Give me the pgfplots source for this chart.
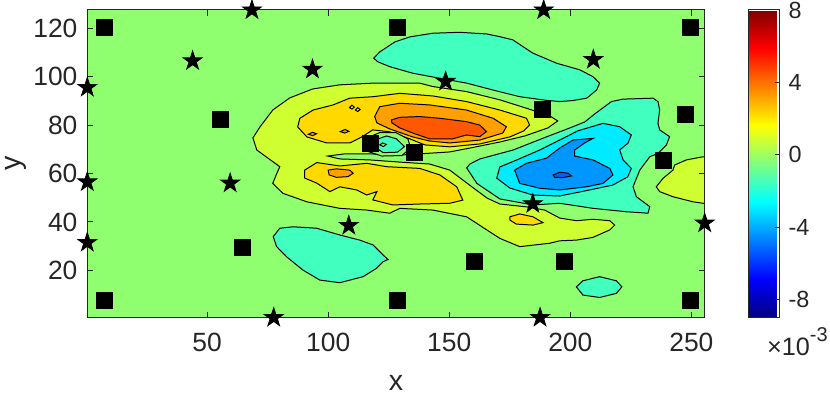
\documentclass[border=0pt]{standalone}
\usepackage{fontspec}
\setmainfont{Liberation Sans}
\usepackage{pgfplots}
\pgfplotsset{compat=1.18}
\usetikzlibrary{calc,plotmarks}

\definecolor{bgg}{RGB}{143,255,112}
\definecolor{yg}{RGB}{207,255,48}
\definecolor{gold}{RGB}{255,217,0}
\definecolor{orng}{RGB}{255,160,0}
\definecolor{redo}{RGB}{255,88,0}
\definecolor{aqua}{RGB}{64,255,191}
\definecolor{cyn}{RGB}{0,235,255}
\definecolor{blu}{RGB}{0,150,255}
\definecolor{dblu}{RGB}{0,96,255}
\definecolor{axgray}{RGB}{38,38,38}

% filled five-pointed star (MATLAB pentagram)
\pgfdeclareplotmark{fstar}{%
  \pgfpathmoveto{\pgfpointpolar{90}{\pgfplotmarksize}}%
  \pgfpathlineto{\pgfpointpolar{126}{0.382\pgfplotmarksize}}%
  \pgfpathlineto{\pgfpointpolar{162}{\pgfplotmarksize}}%
  \pgfpathlineto{\pgfpointpolar{198}{0.382\pgfplotmarksize}}%
  \pgfpathlineto{\pgfpointpolar{234}{\pgfplotmarksize}}%
  \pgfpathlineto{\pgfpointpolar{270}{0.382\pgfplotmarksize}}%
  \pgfpathlineto{\pgfpointpolar{306}{\pgfplotmarksize}}%
  \pgfpathlineto{\pgfpointpolar{342}{0.382\pgfplotmarksize}}%
  \pgfpathlineto{\pgfpointpolar{18}{\pgfplotmarksize}}%
  \pgfpathlineto{\pgfpointpolar{54}{0.382\pgfplotmarksize}}%
  \pgfpathclose
  \pgfusepathqfillstroke
}

\begin{document}
\begin{tikzpicture}
\path[use as bounding box] (-43.65pt,-38.7pt) rectangle (371.35pt,158.8pt);
\begin{axis}[
    name=ax, at={(0,0)}, anchor=south west,
    scale only axis, width=308.7pt, height=153.8pt,
    xmin=0.5, xmax=255.5, ymin=0.5, ymax=127.5,
    xtick={50,100,150,200,250}, xticklabels={50,100,150,200,250},
    ytick={20,40,60,80,100,120}, yticklabels={20,40,60,80,100,120},
    tick align=inside, major tick length=3pt,
    axis line style={axgray, line width=0.5pt},
    every tick/.style={axgray, line width=0.5pt},
    tick label style={font=\fontsize{13.2}{15}\selectfont, text=axgray},
    xticklabel style={yshift=-4.3pt},
    yticklabel style={xshift=-1.4pt},
    xlabel={x}, ylabel={y},
    label style={font=\fontsize{14.3}{17}\selectfont, text=axgray, inner sep=0pt},
    xlabel style={at={(axis description cs:0.5,-0.236)}, anchor=base},
    ylabel style={at={(axis description cs:-0.108,0.5)}, anchor=base, rotate=0},
    axis background/.style={fill=bgg},
    axis on top,
    colormap/jet,
    point meta min=-9, point meta max=8,
    colorbar,
    colorbar style={
        at={(parent axis.north east)}, anchor=north west, xshift=13.3pt,
        scale only axis, width=15.7pt, height=153.8pt,
        ytick={-8,-4,0,4,8}, yticklabels={-8,-4,0,4,8},
        yticklabel style={font=\fontsize{11.7}{14}\selectfont, text=axgray, xshift=0.9pt},
        tick align=inside, ytick pos=right, major tick length=2.5pt,
        axis line style={axgray, line width=0.5pt},
        every tick/.style={axgray, line width=0.5pt},
    },
]
% upper aqua blob
\addplot[fill=aqua, draw=black, line width=0.5pt] coordinates {
(118.8,107.6) (121.3,110.2) (127.5,114.3) (133.7,116.4) (143.2,117.9) (154.3,118.3)
(165.5,117.6) (170.8,116.5) (176.2,115.2) (184.5,109.7) (194.4,105.5) (203.9,102.8)
(209.3,100.0) (212.1,97.3) (210.9,94.5) (206.8,91.1) (201.0,90.1) (195.6,89.7)
(190.1,90.2) (179.1,91.7) (167.9,94.5) (157.2,97.3) (146.1,99.3) (134.9,101.4)
(125.4,104.1) (120.5,106.1)} --cycle;
% lower left aqua blob
\addplot[fill=aqua, draw=black, line width=0.5pt] coordinates {
(77.3,33.9) (80.0,37.4) (85.5,38.0) (95.2,37.4) (104.8,34.6) (113.0,32.5) (118.5,30.5)
(122.7,26.3) (124.7,24.5) (122.7,23.6) (119.9,20.8) (114.4,17.4) (104.8,14.9)
(96.5,16.0) (89.6,20.1) (82.8,25.6) (78.7,29.8)} --cycle;
% lower right aqua blob
\addplot[fill=aqua, draw=black, line width=0.5pt] coordinates {
(202.5,13.2) (205.2,15.7) (212.1,17.4) (219.0,15.7) (221.3,13.2) (219.0,10.5)
(212.1,8.8) (205.2,9.8)} --cycle;
% central positive region (C shaped)
\addplot[fill=yg, draw=black, line width=0.5pt] coordinates {
(68.9,74.7) (71.8,79.2) (77.1,86.2) (84.1,91.2) (93.6,94.9) (104.8,96.6) (118.4,97.3)
(137.8,97.3) (143.2,95.9) (157.2,93.8) (170.9,90.4) (182.0,86.9) (191.5,83.8)
(194.8,81.7) (190.7,78.8) (181.2,75.5) (170.9,73.0) (158.5,70.5) (150.2,68.9)
(137.8,68.1) (129.6,67.6) (117.2,68.1) (106.8,68.1) (99.8,67.2) (104.8,66.0)
(117.2,65.6) (129.6,64.7) (141.9,63.9) (150.2,61.4) (157.2,56.1) (165.5,49.9)
(170.9,47.4) (182.0,46.2) (189.4,44.9) (195.6,41.6) (202.6,40.5) (209.3,41.1)
(216.3,40.5) (218.3,38.7) (216.3,36.7) (209.3,33.6) (202.6,32.5) (195.6,32.2)
(191.5,31.2) (179.1,29.8) (170.9,33.2) (165.5,36.7) (157.2,42.1) (143.2,44.9)
(129.6,45.6) (125.4,43.6) (115.9,44.9) (104.8,45.6) (91.2,48.3) (81.3,51.8)
(77.1,55.9) (78.8,60.1) (80.0,62.8) (77.1,64.9) (70.5,69.7)} --cycle;
% upper gold lobe
\addplot[fill=gold, draw=black, line width=0.5pt] coordinates {
(87.4,79.2) (88.3,82.8) (93.8,86.2) (102.0,88.3) (108.9,91.1) (118.5,91.7) (129.6,93.1)
(143.3,92.0) (157.1,89.7) (170.9,86.2) (181.9,82.8) (183.2,80.0) (180.8,77.6)
(175.0,75.1) (162.6,72.2) (150.2,71.0) (139.9,71.8) (133.7,74.3) (125.4,77.2)
(118.4,78.0) (113.9,75.1) (108.9,72.6) (99.4,72.6) (91.2,75.1)} --cycle;
% small specks inside the upper gold lobe
\addplot[fill=orng, draw=black, line width=0.5pt] coordinates {
(91.8,76.2) (93.5,77.0) (95.2,76.4) (93.6,75.6)} --cycle;
\addplot[fill=orng, draw=black, line width=0.5pt] coordinates {
(105.0,77.3) (107.0,78.2) (108.6,77.4) (106.8,76.7)} --cycle;
\addplot[fill=yg, draw=black, line width=0.5pt] coordinates {
(108.8,87.2) (109.8,88.2) (110.8,87.4) (109.8,86.6)} --cycle;
\addplot[fill=yg, draw=black, line width=0.5pt] coordinates {
(111.2,86.2) (112.2,87.2) (113.2,86.4) (112.2,85.6)} --cycle;
% orange
\addplot[fill=orng, draw=black, line width=0.5pt] coordinates {
(119.2,83.5) (121.3,87.6) (129.6,89.0) (141.9,88.3) (157.1,86.2) (168.1,82.8)
(173.6,79.3) (172.1,76.7) (162.6,73.8) (150.2,72.6) (141.9,73.4) (134.9,75.1)
(125.4,78.4) (120.1,80.9)} --cycle;
% red
\addplot[fill=redo, draw=black, line width=0.5pt] coordinates {
(126.1,82.1) (129.6,83.2) (137.8,83.5) (146.1,82.8) (157.1,81.4) (162.6,80.0)
(165.4,77.3) (162.6,75.2) (157.1,75.9) (151.4,74.3) (141.9,74.3) (134.9,76.7)
(129.6,78.8) (126.3,80.9)} --cycle;
% small negative pocket near (120,72)
\addplot[fill=bgg, draw=black, line width=0.5pt] coordinates {
(115.1,74.3) (121.3,76.9) (127.9,76.9) (132.9,74.3) (134.1,70.5) (130.4,67.4)
(122.1,67.2) (115.9,69.3)} --cycle;
\addplot[fill=aqua, draw=black, line width=0.5pt] coordinates {
(119.2,73.8) (124.1,75.5) (128.2,74.3) (131.5,71.1) (128.6,68.8) (122.7,68.6)
(119.5,70.8)} --cycle;
\addplot[fill=bgg, draw=black, line width=0.5pt] coordinates {
(121.3,71.8) (122.5,72.6) (124.0,72.0) (122.8,71.1)} --cycle;
% lower gold lobe
\addplot[fill=gold, draw=black, line width=0.5pt] coordinates {
(90.3,61.4) (95.3,64.5) (104.8,63.1) (115.9,64.2) (124.2,62.8) (137.8,62.1)
(146.1,59.4) (153.1,54.5) (155.6,49.0) (150.2,47.7) (137.8,47.4) (126.7,47.0)
(118.4,49.1) (120.1,52.5) (115.9,51.1) (111.8,53.2) (104.8,54.5) (100.7,52.5)
(95.3,56.0) (90.3,58.1)} --cycle;
\addplot[fill=orng, draw=black, line width=0.5pt] coordinates {
(100.0,61.4) (103.4,61.9) (108.9,61.4) (110.3,60.1) (108.2,58.7) (103.4,58.4)
(100.4,59.4)} --cycle;
\addplot[fill=gold, draw=black, line width=0.5pt] coordinates {
(175.0,42.1) (179.1,43.3) (184.6,42.1) (188.7,39.7) (184.6,38.7) (177.7,39.1)
(175.0,40.8)} --cycle;
% right edge positive region
\addplot[fill=yg, draw=black, line width=0.5pt] coordinates {
(235.5,54.5) (238.3,58.0) (242.4,61.4) (243.1,63.5) (247.9,65.6) (254.8,66.9)
(256.5,66.9) (256.5,47.7) (254.8,47.7) (250.7,48.3) (242.4,50.4) (236.9,52.5)} --cycle;
% negative region on the right
\addplot[fill=aqua, draw=black, line width=0.5pt] coordinates {
(210.1,84.6) (217.0,89.7) (221.8,90.7) (234.2,91.1) (236.2,89.7) (236.9,86.2)
(236.2,80.7) (236.9,78.0) (241.0,75.2) (239.7,71.8) (236.2,68.3) (232.8,66.9)
(228.7,61.4) (225.9,54.5) (227.3,50.4) (232.8,46.3) (232.1,43.6) (223.2,44.2)
(209.4,45.6) (195.6,47.7) (184.6,47.0) (170.9,49.5) (161.4,55.9) (157.2,62.3)
(158.5,63.9) (162.6,66.0) (176.4,69.7) (190.1,75.1) (199.8,78.8) (206.0,81.3)} --cycle;
\addplot[fill=cyn, draw=black, line width=0.5pt] coordinates {
(195.6,73.8) (203.1,77.6) (213.5,80.7) (220.4,79.3) (225.2,75.9) (223.8,72.5)
(220.4,69.7) (221.8,65.6) (225.2,62.1) (223.7,58.6) (217.5,55.2) (208.0,53.2)
(195.6,50.7) (184.5,51.1) (175.0,54.0) (169.6,58.1) (170.9,62.7) (177.9,65.6)
(187.4,69.7)} --cycle;
\addplot[fill=blu, draw=black, line width=0.5pt] coordinates {
(177.0,61.4) (181.9,64.2) (190.1,66.3) (195.6,70.5) (201.1,73.8) (209.4,74.5)
(205.9,72.6) (201.8,69.7) (201.8,67.2) (209.4,65.6) (216.3,62.1) (217.6,59.4)
(213.5,55.9) (206.6,54.5) (195.6,53.2) (187.4,53.9) (179.1,55.9)} --cycle;
\addplot[fill=dblu, draw=black, line width=0.5pt] coordinates {
(192.9,59.4) (195.6,60.5) (199.1,60.1) (200.5,59.0) (197.0,58.3) (193.6,58.4)} --cycle;
% sensor markers
\addplot[only marks, mark=square*, mark size=4pt, black] coordinates {
(7.5,120.5) (55.5,82.5) (7.5,7.5) (64.5,29.5) (128.5,120.5) (117.5,72.5)
(135.5,68.5) (188.5,86.5) (128.5,7.5) (160.5,23.5) (197.5,23.5) (249.5,120.5)
(247.5,84.5) (238.5,65.5) (249.5,7.5)};
\addplot[only marks, mark=fstar, mark size=5pt, black] coordinates {
(68.5,127.5) (44,106.5) (0.5,95.5) (0.5,56.5) (59.5,56) (0.5,31.5) (77.5,0.5)
(93.5,103) (148.5,98) (189,127.5) (209.5,107) (108.5,38.5) (184.5,47.5)
(187.5,0.5) (255.5,39.5)};
\end{axis}
\node[anchor=base west, inner sep=0pt, text=axgray, font=\fontsize{12.6}{14}\selectfont]
  at ($(ax.south west)+(339.7pt,-18.9pt)$) {×10\raisebox{0.55em}{\fontsize{10}{12}\selectfont -3}};
\end{tikzpicture}
\end{document}
